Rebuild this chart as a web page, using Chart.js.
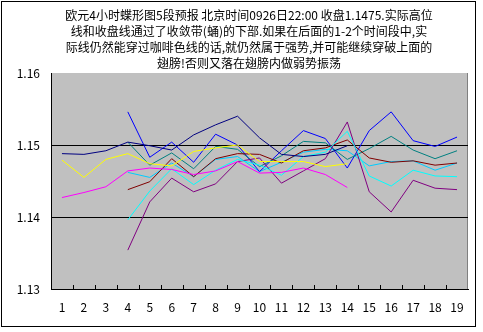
<!DOCTYPE html>
<html>
<head>
<meta charset="utf-8">
<script src="https://cdn.jsdelivr.net/npm/chart.js@4"></script>
<style>
  body { margin: 0; background: #fff; }
</style>
</head>
<body>
<canvas id="myChart" width="483" height="332"></canvas>
<script>
// x categories (time periods)
const labels = ['1','2','3','4','5','6','7','8','9','10','11','12','13','14','15','16','17','18','19'];

const titleLines = [
  '欧元4小时蝶形图5段预报 北京时间0926日22:00 收盘1.1475.实际高位',
  '线和收盘线通过了收敛带(蛹)的下部.如果在后面的1-2个时间段中,实',
  '际线仍然能穿过咖啡色线的话,就仍然属于强势,并可能继续穿破上面的',
  '翅膀!否则又落在翅膀内做弱势振荡'
];

const yTicks = [1.13, 1.14, 1.15, 1.16];

// series values (null = no value)
const navy    = [1.1488,1.1487,1.1492,1.1504,1.1499,1.1493,1.1514,1.1528,1.1540,1.1510,1.1487,1.1484,1.1487,1.1499,null,null,null,null,null];
const blue    = [null,null,null,1.1546,1.1483,1.1504,1.1476,1.1515,1.1500,1.1463,1.1492,1.1520,1.1509,1.1468,1.1520,1.1546,1.1506,1.1498,1.1511];
const yellow  = [1.1479,1.1455,1.1480,1.1488,1.1474,1.1471,1.1491,1.1496,1.1500,1.1477,1.1477,1.1477,1.1470,1.1474,null,null,null,null,null];
const magenta = [1.1427,1.1434,1.1442,1.1464,1.1468,1.1466,1.1459,1.1464,1.1477,1.1461,1.1462,1.1468,1.1459,1.1441,null,null,null,null,null];
const teal    = [null,null,null,1.1504,1.1472,1.1489,1.1467,1.1498,1.1494,1.1470,1.1485,1.1505,1.1503,1.1480,1.1495,1.1512,1.1493,1.1481,1.1492];
const maroon  = [null,null,null,1.1438,1.1449,1.1481,1.1456,1.1481,1.1488,1.1487,1.1475,1.1492,1.1496,1.1507,1.1482,1.1476,1.1478,1.1472,1.1475];
const cyan    = [null,null,null,1.1396,1.1436,1.1467,1.1445,1.1465,1.1480,1.1472,1.1458,1.1484,1.1490,1.1519,1.1457,1.1443,1.1465,1.1457,1.1456];
const skyblue = [null,null,null,1.1462,1.1455,1.1475,1.1456,1.1480,1.1484,1.1463,1.1476,1.1490,1.1494,1.1492,1.1471,1.1477,1.1478,1.1465,1.1475];
const purple  = [null,null,null,1.1354,1.1421,1.1454,1.1435,1.1446,1.1477,1.1482,1.1447,1.1464,1.1481,1.1532,1.1435,1.1407,1.1451,1.1440,1.1438];

const FONT = '"Noto Sans CJK SC", "Noto Sans", sans-serif';

const mkLine = (data, color) => ({
  data: data,
  borderColor: color,
  backgroundColor: color,
  borderWidth: 1,
  pointRadius: 0,
  tension: 0,
  fill: false
});

// white page, outer frame, grey plot area
const frame = {
  id: 'frame',
  beforeDraw(chart) {
    const c = chart.ctx, a = chart.chartArea;
    c.save();
    c.fillStyle = '#fff';
    c.fillRect(0, 0, chart.width, chart.height);
    c.strokeStyle = '#000';
    c.lineWidth = 1;
    c.strokeRect(1.5, 1.5, 474, 325);
    c.fillStyle = '#c0c0c0';
    c.fillRect(a.left, a.top, a.right - a.left, a.bottom - a.top);
    c.strokeStyle = '#808080';
    c.beginPath();
    c.moveTo(a.right - 0.5, a.top);
    c.lineTo(a.right - 0.5, a.bottom);
    c.stroke();
    c.restore();
  },
  // short inside tick marks between categories
  afterDraw(chart) {
    const c = chart.ctx, x = chart.scales.x, a = chart.chartArea;
    c.save();
    c.strokeStyle = '#000';
    c.lineWidth = 1;
    c.beginPath();
    for (let i = 0; i < labels.length - 1; i++) {
      const px = Math.round((x.getPixelForValue(i) + x.getPixelForValue(i + 1)) / 2) + 0.5;
      c.moveTo(px, a.bottom);
      c.lineTo(px, a.bottom - 4);
    }
    c.stroke();
    c.restore();
  }
};

const ctxt = document.getElementById('myChart').getContext('2d');

const myChart = new Chart(ctxt, {
  type: 'line',
  data: {
    labels: labels,
    datasets: [
      mkLine(navy, '#000080'),
      mkLine(magenta, '#ff00ff'),
      mkLine(yellow, '#ffff00'),
      mkLine(cyan, '#00ffff'),
      mkLine(purple, '#800080'),
      mkLine(maroon, '#800000'),
      mkLine(teal, '#008080'),
      mkLine(blue, '#0000ff'),
      mkLine(skyblue, '#00ccff')
    ]
  },
  options: {
    responsive: false,
    devicePixelRatio: 1,
    animation: false,
    layout: { padding: { left: 15, right: 0, top: 0, bottom: 0 } },
    plugins: {
      legend: { display: false },
      tooltip: { enabled: false },
      title: {
        display: true,
        text: titleLines,
        color: '#000',
        font: { family: FONT, size: 12, weight: 'normal', lineHeight: '16px' },
        padding: { top: 7, bottom: 2 }
      }
    },
    scales: {
      x: {
        offset: true,
        grid: { display: false },
        border: { display: true, color: '#000', width: 1 },
        ticks: { color: '#000', font: { family: FONT, size: 12 }, padding: 3, maxRotation: 0, autoSkip: false },
        afterFit: s => { s.height = 43; }
      },
      y: {
        min: yTicks[0],
        max: yTicks[yTicks.length - 1],
        afterBuildTicks: s => { s.ticks = yTicks.map(v => ({ value: v })); },
        grid: {
          drawTicks: false,
          color: c => (Math.abs(c.tick.value - 1.14) < 1e-6 || Math.abs(c.tick.value - 1.15) < 1e-6) ? '#000' : 'rgba(0,0,0,0)',
          lineWidth: 1
        },
        border: { display: true, color: '#000', width: 1 },
        ticks: { color: '#000', font: { family: FONT, size: 12 }, padding: 11, callback: v => v.toFixed(2) },
        afterFit: s => { s.width = 36; }
      },
      // empty right margin so the title centres like the original
      yRight: {
        position: 'right',
        min: yTicks[0],
        max: yTicks[yTicks.length - 1],
        grid: { display: false },
        border: { display: false },
        ticks: { display: false },
        afterFit: s => { s.width = 15; }
      }
    }
  },
  plugins: [frame]
});
</script>
</body>
</html>
